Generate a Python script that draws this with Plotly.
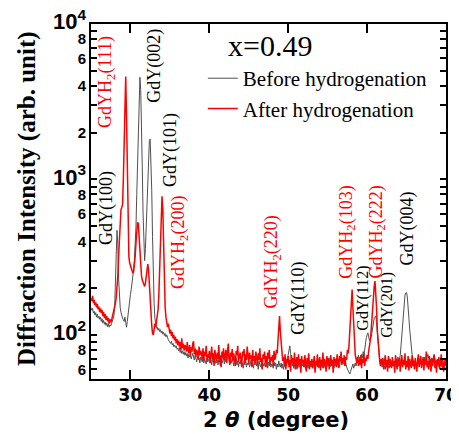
import numpy as np
import plotly.graph_objects as go

# 2-theta grid (degrees), 0.1 deg step from 25.0 to 70.0
two_theta = np.round(np.arange(25.0, 70.05, 0.1), 1)

# Before hydrogenation (grey/black trace), one row per degree (10 points per row)
before_hydrogenation = [
    150,144,148,138,142,134,139,130,136,128,   # 25
    132,126,130,122,127,119,124,117,121,115,   # 26
    119,113,118,112,116,114,118,122,126,132,   # 27
    150,200,330,470,380,230,170,150,140,132,   # 28
    128,125,122,130,118,112,122,138,152,168,   # 29
    182,196,212,232,262,300,370,500,800,1300,  # 30
    2200,3500,4550,3800,2400,1200,600,360,300,360,  # 31
    480,700,1050,1450,1780,1820,1400,850,430,230,   # 32
    160,128,116,110,112,107,110,105,108,103,   # 33
    106,101,104,99,102,97,100,95,93,91,        # 34
    90,88,91,86,88,84,86,83,85,81,             # 35
    82,79,83,77,80,76,79,75,78,74,             # 36
    77,73,76,71,75,72,74,70,73,76,             # 37
    72,69,74,70,67,73,69,71,66,72,             # 38
    70,67,72,66,70,68,65,71,67,69,             # 39
    71,66,69,64,70,67,72,65,68,66,             # 40
    69,64,70,67,63,71,66,68,72,65,             # 41
    70,67,74,83,76,68,65,70,66,71,             # 42
    67,63,69,65,71,64,68,62,67,65,             # 43
    69,63,66,61,68,64,70,62,66,64,             # 44
    67,62,65,69,63,66,61,68,64,67,             # 45
    63,66,60,68,64,62,67,61,65,63,             # 46
    66,62,68,64,61,67,63,69,62,65,             # 47
    64,61,67,63,66,60,65,62,68,64,             # 48
    62,66,61,65,60,64,62,67,63,70,             # 49
    74,80,85,76,68,63,66,61,65,62,             # 50
    66,60,64,67,62,65,61,68,63,66,             # 51
    62,67,60,64,66,61,65,63,68,62,             # 52
    65,61,67,63,60,66,64,62,67,61,             # 53
    64,68,62,66,61,65,69,63,67,62,             # 54
    66,63,68,62,65,70,64,67,61,66,             # 55
    63,68,64,70,65,62,67,71,66,69,             # 56
    65,68,63,66,62,60,58,57,56,58,             # 57
    60,62,65,61,64,66,63,67,70,74,             # 58
    69,72,68,75,71,78,74,82,88,96,             # 59
    100,103,97,92,94,96,102,112,122,128,       # 60
    130,132,120,100,84,72,68,64,66,62,         # 61
    65,61,63,60,64,62,66,63,61,65,             # 62
    62,66,63,67,64,68,65,70,66,72,             # 63
    68,70,74,85,100,122,145,165,180,186,       # 64
    187,175,155,128,108,92,82,75,70,67,        # 65
    68,64,66,62,65,67,63,66,69,65,             # 66
    67,64,69,72,66,70,74,75,71,68,             # 67
    66,70,64,68,72,75,70,66,69,64,             # 68
    66,62,65,68,63,66,61,64,62,60,             # 69
    62,                                        # 70
]

# After hydrogenation (red trace)
after_hydrogenation = [
    172,165,178,160,168,155,162,150,158,146,   # 25
    152,140,148,138,145,132,140,128,136,125,   # 26
    132,122,128,118,126,120,124,130,138,145,   # 27
    150,160,175,200,240,320,430,560,640,660,   # 28
    690,1000,1800,3200,4600,2600,1200,500,320,290,  # 29
    280,270,262,250,255,280,320,390,470,530,   # 30
    520,420,320,260,240,225,215,210,205,215,   # 31
    235,265,285,260,200,160,135,115,102,100,   # 32
    108,118,112,120,130,145,180,260,420,640,   # 33
    780,650,330,200,150,130,120,112,118,106,   # 34
    102,108,98,104,95,100,92,97,88,94,         # 35
    86,92,84,90,80,95,82,88,79,86,             # 36
    84,78,90,80,76,86,74,83,78,88,             # 37
    91,75,82,72,80,77,70,84,74,79,             # 38
    76,70,82,68,78,73,85,69,75,71,             # 39
    79,66,74,84,70,76,63,80,72,68,             # 40
    77,70,86,67,74,62,78,71,82,69,             # 41
    73,80,66,75,88,70,64,77,72,81,             # 42
    68,76,71,63,79,74,85,67,72,77,             # 43
    70,62,78,73,81,66,75,69,84,71,             # 44
    65,77,70,74,62,80,68,73,66,78,             # 45
    72,64,76,69,82,67,71,60,75,70,             # 46
    78,66,73,62,77,70,80,65,72,68,             # 47
    74,63,79,69,72,80,76,92,115,132,           # 48
    105,86,74,68,72,64,75,60,70,66,            # 49
    73,62,69,58,74,66,71,63,77,60,             # 50
    68,72,61,75,64,70,57,73,66,69,             # 51
    62,74,67,58,71,65,76,60,68,63,             # 52
    70,61,66,73,57,68,64,75,62,67,             # 53
    72,59,69,64,77,61,70,66,58,73,             # 54
    65,71,60,68,74,63,69,57,72,66,             # 55
    70,62,75,66,61,73,68,78,64,71,             # 56
    67,74,63,72,69,80,76,85,105,140,           # 57
    185,196,150,110,85,74,70,66,72,63,         # 58
    69,64,74,61,70,66,76,63,71,68,             # 59
    74,70,79,84,92,105,125,155,185,205,        # 60
    222,185,148,105,85,72,68,63,70,65,         # 61
    71,60,67,74,62,69,58,73,64,70,             # 62
    66,61,72,63,68,57,74,65,60,69,             # 63
    63,71,58,67,74,62,69,64,76,60,             # 64
    68,62,73,59,70,65,61,74,63,68,             # 65
    60,71,64,58,69,75,62,67,73,61,             # 66
    66,72,59,70,64,78,62,68,60,73,             # 67
    65,58,71,63,69,74,61,67,57,70,             # 68
    64,72,60,67,75,62,69,58,66,71,             # 69
    63,                                        # 70
]

series_names = ["Before hydrogenation", "After hydrogenation"]

x_tick_vals = [30, 40, 50, 60, 70]
y_tick_vals = [60, 70, 80, 90, 100, 200, 300, 400, 500, 600, 700, 800, 900,
               1000, 2000, 3000, 4000, 5000, 6000, 7000, 8000, 9000, 10000]
BIG = '<span style="font-size:22px">10<sup>%d</sup></span>'
y_tick_text = ["6", "", "8", "", BIG % 2, "2", "", "4", "", "6", "", "8", "",
               BIG % 3, "2", "", "4", "", "6", "", "8", "", BIG % 4]

# peak labels: text, colour
peak_labels = [
    ("GdYH<sub>2</sub>(111)", "red"),
    ("GdY(002)", "black"),
    ("GdY(101)", "black"),
    ("GdY(100)", "black"),
    ("GdYH<sub>2</sub>(200)", "red"),
    ("GdYH<sub>2</sub>(220)", "red"),
    ("GdY(110)", "black"),
    ("GdYH<sub>2</sub>(103)", "red"),
    ("GdY(112)", "black"),
    ("GdYH<sub>2</sub>(222)", "red"),
    ("GdY(201)", "black"),
    ("GdY(004)", "black"),
]
# label placement (x in degrees, y in paper fraction, font size)
label_pos = [
    (27.03, 0.837, 18), (33.1, 0.882, 18), (35.0, 0.645, 18), (27.03, 0.482, 18),
    (36.27, 0.386, 18), (48.04, 0.330, 18), (51.2, 0.228, 18), (57.4, 0.414, 18),
    (59.43, 0.228, 16), (61.2, 0.414, 18), (62.6, 0.208, 16), (65.13, 0.423, 18),
]

fig = go.Figure()
fig.add_trace(go.Scatter(x=two_theta, y=before_hydrogenation, mode="lines",
                         name=series_names[0], line=dict(color="#505050", width=1)))
fig.add_trace(go.Scatter(x=two_theta, y=after_hydrogenation, mode="lines",
                         name=series_names[1], line=dict(color="#ff0000", width=1.5)))

serif = "Liberation Serif, Times New Roman, serif"
sans = "Liberation Sans, Arial, sans-serif"
wide = "DejaVu Sans, sans-serif"

for (txt, col), (lx, ly, fs) in zip(peak_labels, label_pos):
    fig.add_annotation(x=lx, y=ly, xref="x", yref="paper", text=txt, textangle=-90,
                       showarrow=False, font=dict(family=serif, size=fs, color=col),
                       xanchor="center", yanchor="middle")

fig.add_annotation(x=0.504, y=0.94, xref="paper", yref="paper", text="x=0.49",
                   showarrow=False, font=dict(family=serif, size=30, color="black"),
                   xanchor="center", yanchor="middle")

# axis titles
fig.add_annotation(x=0.521, y=-0.116, xref="paper", yref="paper",
                   text="2 <i>θ</i> (degree)", showarrow=False,
                   font=dict(family=wide, size=21, color="black", weight="bold"),
                   xanchor="center", yanchor="middle")
fig.add_annotation(x=-0.180, y=0.507, xref="paper", yref="paper", textangle=-90,
                   text="Diffraction Intensity (arb. unit)", showarrow=False,
                   font=dict(family=serif, size=25, color="black", weight="bold"),
                   xanchor="center", yanchor="middle")

fig.update_layout(
    width=451, height=426, autosize=False,
    margin=dict(l=83, r=13, t=16, b=55),
    paper_bgcolor="white", plot_bgcolor="white",
    showlegend=True,
    legend=dict(x=0.315, y=0.904, xanchor="left", yanchor="top",
                font=dict(family=serif, size=21, color="black"),
                bgcolor="rgba(0,0,0,0)", borderwidth=0, tracegroupgap=0),
)
fig.update_xaxes(
    range=[25, 70], tickvals=x_tick_vals, ticks="inside", ticklen=9, tickwidth=2,
    tickcolor="black", showline=True, linewidth=2, linecolor="black", mirror="ticks",
    showgrid=False, zeroline=False, automargin=False, ticklabeloverflow="allow",
    tickfont=dict(family=wide, size=17, color="black", weight="bold"),
)
fig.update_yaxes(
    type="log", range=[np.log10(52), 4], tickvals=y_tick_vals, ticktext=y_tick_text,
    ticks="inside", ticklen=6, tickwidth=2, tickcolor="black",
    showline=True, linewidth=2, linecolor="black", mirror="ticks",
    showgrid=False, zeroline=False, automargin=False, ticklabeloverflow="allow",
    tickfont=dict(family=sans, size=15, color="black", weight="bold"),
)

fig.write_html("out.html")
